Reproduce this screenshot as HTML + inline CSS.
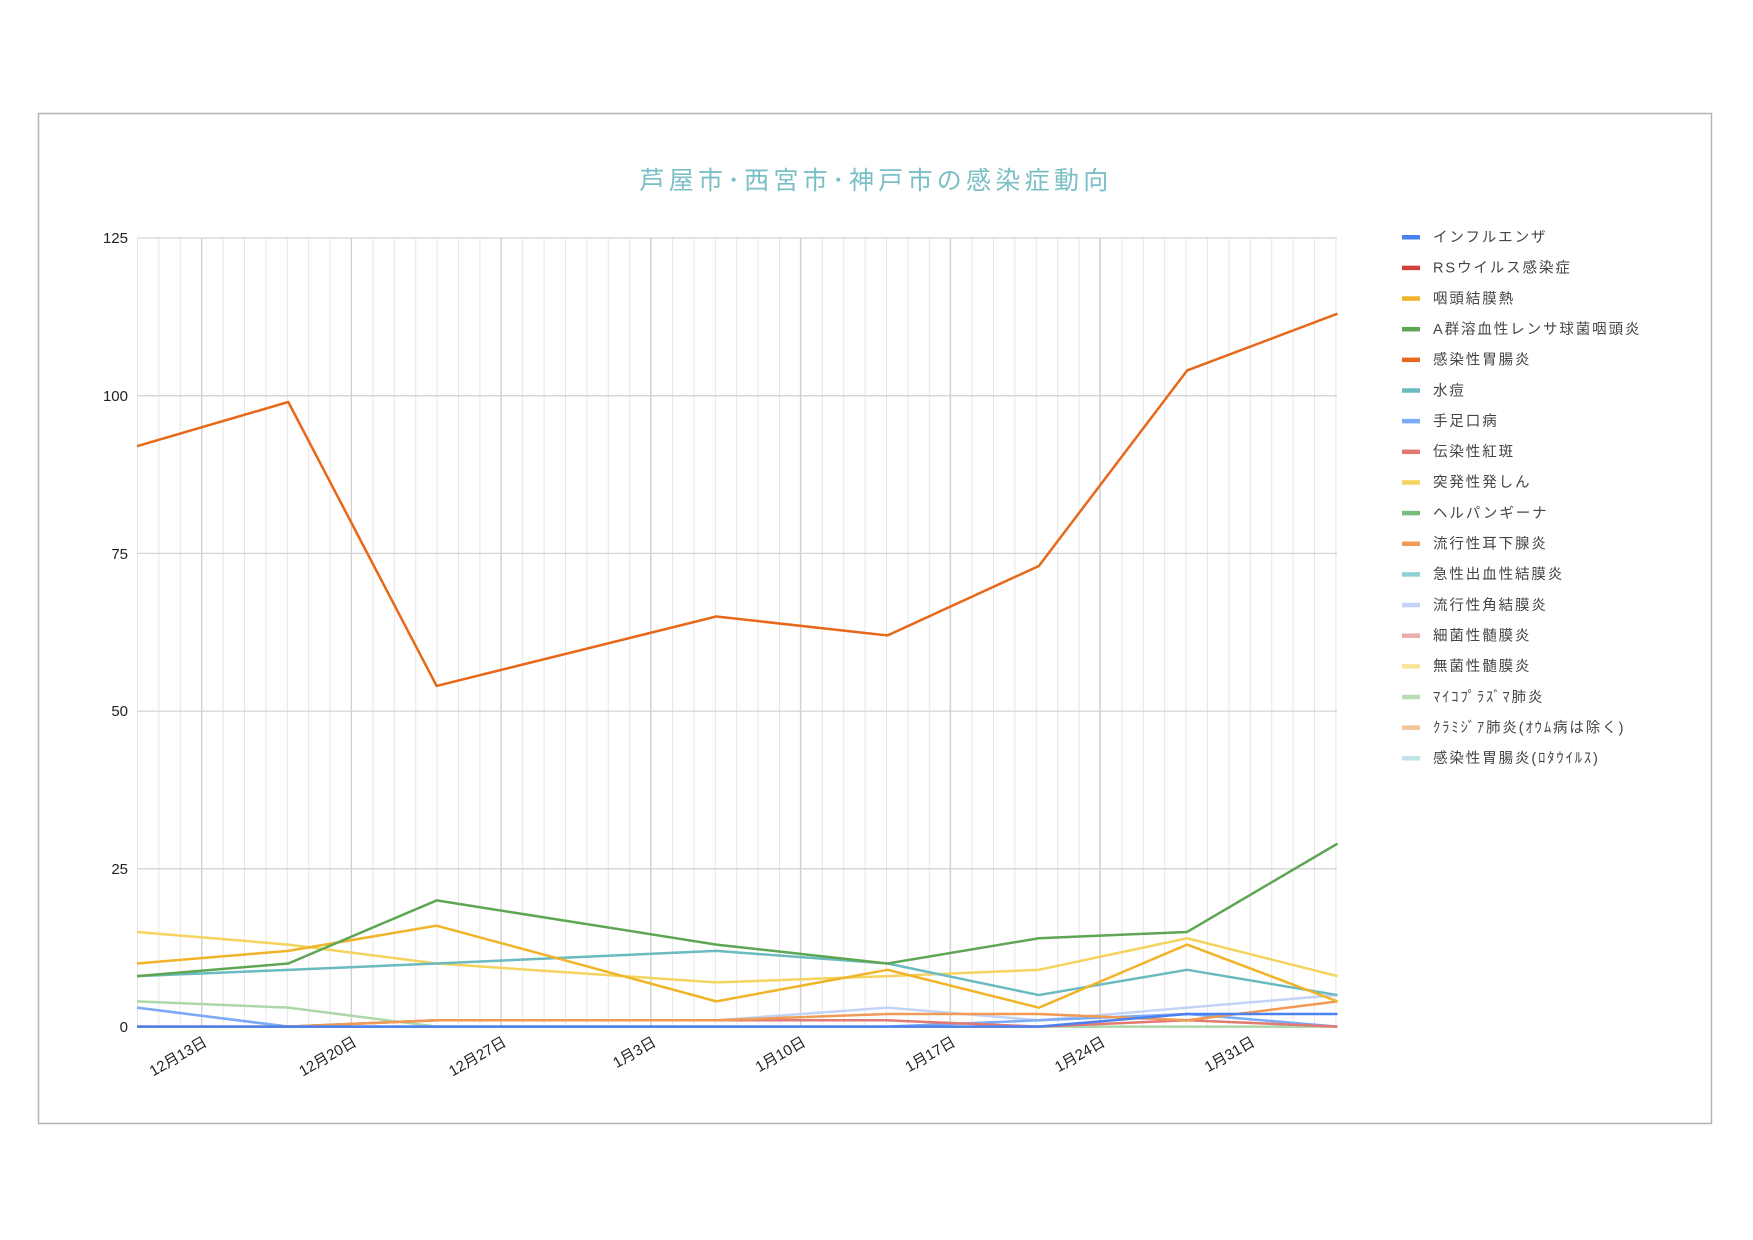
<!DOCTYPE html>
<html><head><meta charset="utf-8"><style>
html,body{margin:0;padding:0;background:#fff;}
svg{display:block;}
text{font-family:"Liberation Sans","Noto Sans CJK JP",sans-serif;}
</style></head><body>
<svg width="1753" height="1240" viewBox="0 0 1753 1240" xmlns="http://www.w3.org/2000/svg">
<rect x="38.5" y="113.5" width="1673" height="1010" fill="#fff" stroke="#b5b5b5" stroke-width="1.5"/>
<text x="876" y="189" text-anchor="middle" font-size="25" fill="#7bbfc6" letter-spacing="4.3">芦屋市･西宮市･神戸市の感染症動向</text>
<g id="minor" stroke="#e6e6e6" stroke-width="1"></g>
<g id="major" stroke="#cfcfcf" stroke-width="1.3"></g>
<g id="hgrid" stroke="#d4d4d4" stroke-width="1.3"></g>
<line x1="137" y1="1026.6" x2="1337" y2="1026.6" stroke="#8c8c8c" stroke-width="2"/>
<g font-size="15" fill="#222" text-anchor="end">
<text x="128" y="243">125</text><text x="128" y="401">100</text><text x="128" y="559">75</text>
<text x="128" y="716">50</text><text x="128" y="874">25</text><text x="128" y="1032">0</text>
</g>
<g id="xl" font-size="15" fill="#222" text-anchor="end"></g>
<g id="series" fill="none" stroke-width="2.5" stroke-linejoin="round"></g>
<g id="legend" font-size="14.5" fill="#444"></g>
</svg>
<script>
var ns="http://www.w3.org/2000/svg";
function el(p,t,a,txt){var e=document.createElementNS(ns,t);for(var k in a)e.setAttribute(k,a[k]);if(txt)e.textContent=txt;document.getElementById(p).appendChild(e);}
for(var x=137.5;x<1338;x+=21.4){el('minor','line',{x1:x,y1:238,x2:x,y2:1026.6});}
var labs=["12月13日","12月20日","12月27日","1月3日","1月10日","1月17日","1月24日","1月31日"];
for(var i=0;i<7;i++){var x=201.7+149.7*i;el('major','line',{x1:x,y1:238,x2:x,y2:1026.6});}
for(var i=0;i<8;i++){var x=208+149.7*i;el('xl','text',{x:x,y:1045,transform:'rotate(-30 '+x+' 1045)'},labs[i]);}
for(var v=0;v<5;v++){var y=238+157.7*v;el('hgrid','line',{x1:137,y1:y,x2:1337,y2:y});}
var X=[137,289,438,719,891,1043,1192,1343].map(function(x){return 137+(x-137)*0.9954;});
function Y(v){return 1026.6-v*6.309;}
var S=[
["#aed7a9",[4,3,0,0,0,0,0,0]],
["#c3d3f7",[3,0,1,1,3,1,3,5]],
["#7baaf7",[3,0,0,0,0,1,2,0]],
["#e07a72",[0,0,1,1,1,0,1,0]],
["#f09a55",[0,0,1,1,2,2,1,4]],
["#4a80f0",[0,0,0,0,0,0,2,2]],
["#f4d35e",[15,13,10,7,8,9,14,8]],
["#6bbac0",[8,9,10,12,10,5,9,5]],
["#f0b429",[10,12,16,4,9,3,13,4]],
["#5ea653",[8,10,20,13,10,14,15,29]],
["#e8681a",[92,99,54,65,62,73,104,113]]
];
S.forEach(function(s){var p=s[1].map(function(v,i){return X[i]+','+Y(v)}).join(' ');el('series','polyline',{points:p,stroke:s[0]});});
var L=[["#4a80f0","インフルエンザ"],["#d0413a","RSウイルス感染症"],["#f0b429","咽頭結膜熱"],["#5ea653","A群溶血性レンサ球菌咽頭炎"],["#e8681a","感染性胃腸炎"],["#6bbac0","水痘"],["#7baaf7","手足口病"],["#e07a72","伝染性紅斑"],["#f4d35e","突発性発しん"],["#78bb7b","ヘルパンギーナ"],["#f09a55","流行性耳下腺炎"],["#8fd0d0","急性出血性結膜炎"],["#c3d3f7","流行性角結膜炎"],["#ebaeaa","細菌性髄膜炎"],["#f8e39a","無菌性髄膜炎"],["#b8dcb4","ﾏｲｺﾌﾟﾗｽﾞﾏ肺炎"],["#f3c49a","ｸﾗﾐｼﾞｱ肺炎(ｵｳﾑ病は除く)"],["#bfe3e8","感染性胃腸炎(ﾛﾀｳｲﾙｽ)"]];
L.forEach(function(l,i){var y=237+30.65*i;el('legend','rect',{x:1402,y:y-2,width:18,height:4.5,fill:l[0]});el('legend','text',{x:1433,y:y+5,'letter-spacing':'1.9'},l[1]);});
</script>
</body></html>
